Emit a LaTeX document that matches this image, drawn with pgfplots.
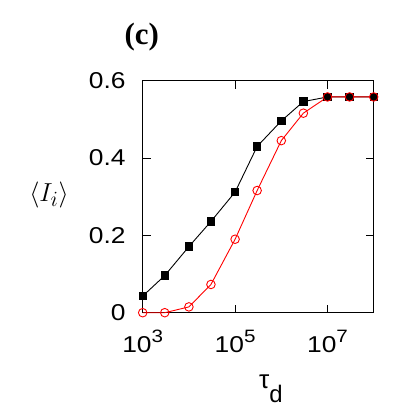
\documentclass[border=0pt]{standalone}
\usepackage{fontspec}
\setmainfont{Liberation Sans}
\newfontfamily\tickfont[FakeStretch=1.15]{Liberation Sans}
\newfontfamily\seriffont{Liberation Serif}
\usepackage{pgfplots}
\pgfplotsset{compat=1.18}

\newcommand{\tl}[1]{{\tickfont\fontsize{23}{25}\selectfont #1}}
\newcommand{\pw}[1]{{\tickfont\fontsize{23}{25}\selectfont 10\raisebox{10bp}{\fontsize{18}{18}\selectfont #1}}}

\begin{document}
\begin{tikzpicture}
\useasboundingbox (-142.7bp,-107.3bp) rectangle (264.3bp,312.7bp);
\begin{axis}[
  at={(0,0)}, anchor=south west,
  scale only axis,
  width=231bp, height=232bp,
  xmode=log,
  xmin=1e3, xmax=1e8,
  ymin=0, ymax=0.6,
  xtick={1e3,1e5,1e7},
  xticklabels={\pw{3},\pw{5},\pw{7}},
  ytick={0,0.2,0.4,0.6},
  yticklabels={\tl{0},\tl{0.2},\tl{0.4},\tl{0.6}},
  minor xtick={},
  tick align=inside,
  major tick length=8bp,
  axis line style={black, line width=0.8pt},
  tick style={black, line width=0.8pt},
  tick label style={inner sep=0pt},
  xticklabel style={anchor=base, yshift=-40bp},
  yticklabel style={anchor=east, xshift=-17bp},
  clip=false,
]
\addplot[black, line width=0.9pt, mark=square*, mark size=3.7pt] coordinates {
  (1e3,0.043) (3e3,0.096) (1e4,0.171) (3e4,0.236) (1e5,0.312)
  (3e5,0.430) (1e6,0.496) (3e6,0.546) (1e7,0.558) (3e7,0.558) (1e8,0.558)
};
\addplot[red, line width=0.9pt, mark=o, mark size=4.3pt, mark options={line width=0.9pt}] coordinates {
  (1e3,0.0) (3e3,0.0) (1e4,0.015) (3e4,0.073) (1e5,0.190)
  (3e5,0.316) (1e6,0.445) (3e6,0.516) (1e7,0.558) (3e7,0.558) (1e8,0.558)
};
\end{axis}
\node[font=\fontsize{24.88}{26}\selectfont] at (-93.7bp,117.7bp) {\scalebox{1.05}{$\langle I_i\rangle$}};
\node[font=\fontsize{26}{28}\selectfont, anchor=base, inner sep=0pt] at (128.3bp,-75.3bp) {τ\raisebox{-14bp}{\fontsize{24}{26}\selectfont d}};
\node[font=\seriffont\bfseries\fontsize{31}{33}\selectfont] at (-1bp,275.7bp) {(c)};
\end{tikzpicture}
\end{document}
